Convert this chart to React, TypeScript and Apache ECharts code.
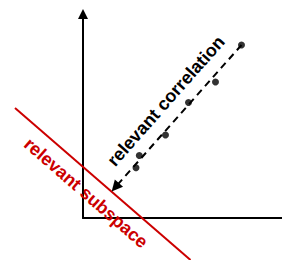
import React, { useEffect, useRef } from "react";
import * as echarts from "echarts";

// Scatter points (x, y) measured from the axes' origin
const pointsX = [158.5, 132.5, 105.5, 82.5, 56.3, 53];
const pointsY = [173, 136, 115.5, 83, 62.5, 50.3];

// Correlation direction (dashed arrow): start -> end
const corrLineX = [158.5, 32.3];
const corrLineY = [173, 30.7];

// Relevant subspace (red line): start -> end
const subspaceX = [-68, 107.5];
const subspaceY = [110, -42];

const corrLabel = "relevant correlation";
const subspaceLabel = "relevant subspace";

const RED = "#cc0000";
const FONT = "bold 18px 'Liberation Sans', Arial, sans-serif";

export default function App() {
  const ref = useRef<HTMLDivElement>(null);
  useEffect(() => {
    if (!ref.current) return;
    const chart = echarts.init(ref.current, null, { renderer: "svg" });
    chart.setOption({
      animation: false,
      grid: { left: 83, right: 0, top: 14, bottom: 42 },
      xAxis: {
        type: "value",
        min: 0,
        max: 199,
        axisLine: { show: true, onZero: false, lineStyle: { color: "#000", width: 2 } },
        axisTick: { show: false },
        axisLabel: { show: false },
        splitLine: { show: false },
      },
      yAxis: {
        type: "value",
        min: 0,
        max: 204,
        axisLine: {
          show: true,
          onZero: false,
          symbol: ["none", "triangle"],
          symbolSize: [10, 10],
          lineStyle: { color: "#000", width: 2 },
        },
        axisTick: { show: false },
        axisLabel: { show: false },
        splitLine: { show: false },
      },
      series: [
        {
          type: "lines",
          coordinateSystem: "cartesian2d",
          clip: false,
          silent: true,
          symbol: ["none", "none"],
          lineStyle: { color: RED, width: 2, opacity: 1, curveness: 0 },
          data: [
            {
              coords: [
                [subspaceX[0], subspaceY[0]],
                [subspaceX[1], subspaceY[1]],
              ],
            },
          ],
          z: 3,
        },
        {
          type: "lines",
          coordinateSystem: "cartesian2d",
          clip: false,
          silent: true,
          symbol: ["none", "triangle"],
          symbolSize: [10, 11],
          lineStyle: { color: "#000", width: 2, type: [7, 5], opacity: 1, curveness: 0 },
          data: [
            {
              coords: [
                [corrLineX[0], corrLineY[0]],
                [corrLineX[1], corrLineY[1]],
              ],
            },
          ],
          z: 4,
        },
        {
          type: "scatter",
          symbol: "circle",
          symbolSize: 7,
          itemStyle: { color: "#000" },
          data: pointsX.map((x, i) => [x, pointsY[i]]),
          z: 5,
        },
      ],
      graphic: [
        {
          type: "text",
          x: 166,
          y: 101,
          rotation: (48.5 * Math.PI) / 180,
          z: 10,
          style: {
            text: corrLabel,
            font: FONT,
            fill: "#000",
            align: "center",
            verticalAlign: "middle",
          },
        },
        {
          type: "text",
          x: 86,
          y: 193,
          rotation: (-41 * Math.PI) / 180,
          z: 10,
          style: {
            text: subspaceLabel,
            font: FONT,
            fill: RED,
            align: "center",
            verticalAlign: "middle",
          },
        },
      ],
    });
    return () => chart.dispose();
  }, []);
  return (
    <div
      ref={ref}
      style={{ position: "absolute", left: 0, top: 0, width: 282, height: 260, background: "#fff" }}
    />
  );
}
